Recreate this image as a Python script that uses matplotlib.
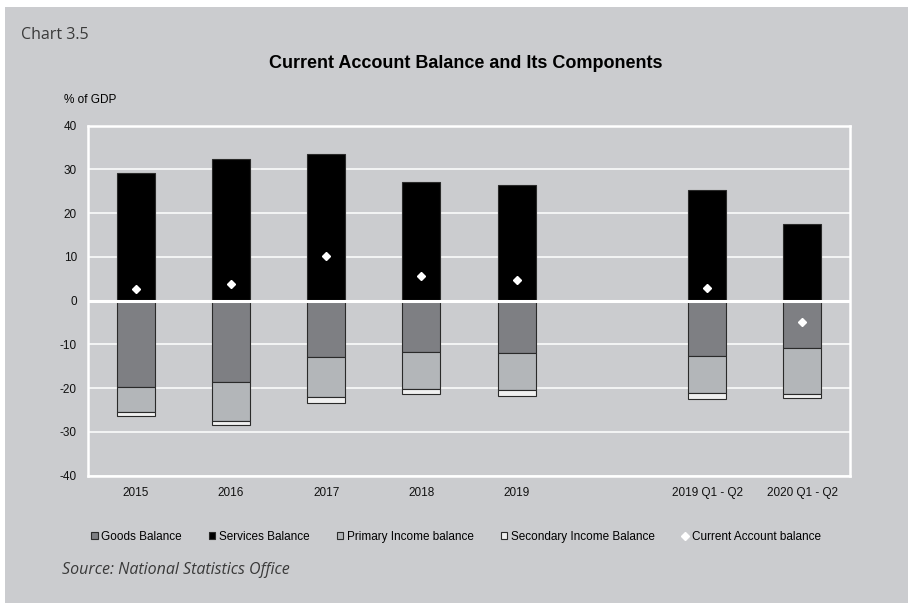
import numpy as np
import matplotlib.pyplot as plt
from matplotlib.patches import Rectangle, Patch
from matplotlib.lines import Line2D

plt.rcParams["axes.unicode_minus"] = False

# data (% of GDP)
categories = ["2015", "2016", "2017", "2018", "2019", "", "2019 Q1 - Q2", "2020 Q1 - Q2"]
services = [29.2, 32.5, 33.6, 27.1, 26.5, np.nan, 25.4, 17.5]
goods = [-19.8, -18.5, -12.8, -11.8, -12.0, np.nan, -12.6, -10.7]
primary = [-5.6, -8.9, -9.3, -8.4, -8.5, np.nan, -8.5, -10.6]
secondary = [-1.0, -1.1, -1.3, -1.1, -1.2, np.nan, -1.3, -0.9]
current_account = [2.6, 3.8, 10.3, 5.7, 4.8, np.nan, 2.9, -4.8]

bg = "#cbcccf"
c_goods = "#7e7f83"
c_primary = "#b3b6b9"
c_secondary = "#f0f0f0"
edge = "#2a2a2a"

fig = plt.figure(figsize=(9.08, 6.03), dpi=100)
fig.patch.set_facecolor("white")
fig.patches.append(Rectangle((5 / 908, 0), 1, 1 - 7 / 603, transform=fig.transFigure,
                             facecolor=bg, edgecolor="none", zorder=-5))

ax = fig.add_axes([88 / 908, 1 - 475.7 / 603, 762 / 908, 350 / 603])
ax.set_facecolor(bg)

x = np.arange(len(categories))
w = 0.4
goods_a = np.array(goods)
prim_a = np.array(primary)
sec_a = np.array(secondary)

ax.bar(x, services, w, color="black", edgecolor=edge, linewidth=0.8, zorder=3)
ax.bar(x, goods_a, w, color=c_goods, edgecolor=edge, linewidth=0.8, zorder=3)
ax.bar(x, prim_a, w, bottom=goods_a, color=c_primary, edgecolor=edge, linewidth=0.8, zorder=3)
ax.bar(x, sec_a, w, bottom=goods_a + prim_a, color=c_secondary, edgecolor=edge, linewidth=0.8, zorder=3)
ax.plot(x, current_account, linestyle="none", marker="D", markersize=4.5,
        color="white", markeredgecolor="white", zorder=5)

ax.set_ylim(-40, 40)
ax.set_xlim(-0.5, len(categories) - 0.5)
ax.set_yticks(np.arange(-40, 41, 10))
ax.set_xticks(x)
ax.set_xticklabels(categories)
ax.tick_params(length=0, labelsize=8.5, pad=8, colors="#111111")
for lab in ax.get_xticklabels() + ax.get_yticklabels():
    lab.set_fontfamily("Liberation Sans")
ax.yaxis.grid(True, color="white", linewidth=1.1, zorder=1)
ax.set_axisbelow(True)
ax.axhline(0, color="white", linewidth=2.2, zorder=4)
for s in ax.spines.values():
    s.set_color("white")
    s.set_linewidth(1.8)

fig.text(21 / 908, 1 - 35 / 603, "Chart 3.5", fontsize=11.5, color="#3a3a3a",
         family="Open Sans", va="center", ha="left")
fig.text(466 / 908, 1 - 64 / 603, "Current Account Balance and Its Components", fontsize=13,
         fontweight="bold", family="Liberation Sans", ha="center", va="center")
fig.text(64 / 908, 1 - 100 / 603, "% of GDP", fontsize=8.5, family="Liberation Sans",
         ha="left", va="center")
fig.text(62 / 908, 1 - 570 / 603, "Source: National Statistics Office", fontsize=11.5,
         style="italic", color="#3a3a3a", family="Open Sans", ha="left", va="center")

handles = [
    Patch(facecolor=c_goods, edgecolor=edge, linewidth=0.8),
    Patch(facecolor="black", edgecolor=edge, linewidth=0.8),
    Patch(facecolor=c_primary, edgecolor=edge, linewidth=0.8),
    Patch(facecolor=c_secondary, edgecolor=edge, linewidth=0.8),
    Line2D([], [], linestyle="none", marker="D", markersize=4, color="white"),
]
labels = ["Goods Balance", "Services Balance", "Primary Income balance",
          "Secondary Income Balance", "Current Account balance"]
fig.legend(handles, labels, loc="center", bbox_to_anchor=(456 / 908, 1 - 537 / 603), ncol=5,
           frameon=False, handlelength=0.55, handleheight=0.55, handletextpad=0.3,
           columnspacing=2.3, prop={"family": "Liberation Sans", "size": 8.5})

fig.savefig("out.png", dpi=100, facecolor=fig.get_facecolor())
